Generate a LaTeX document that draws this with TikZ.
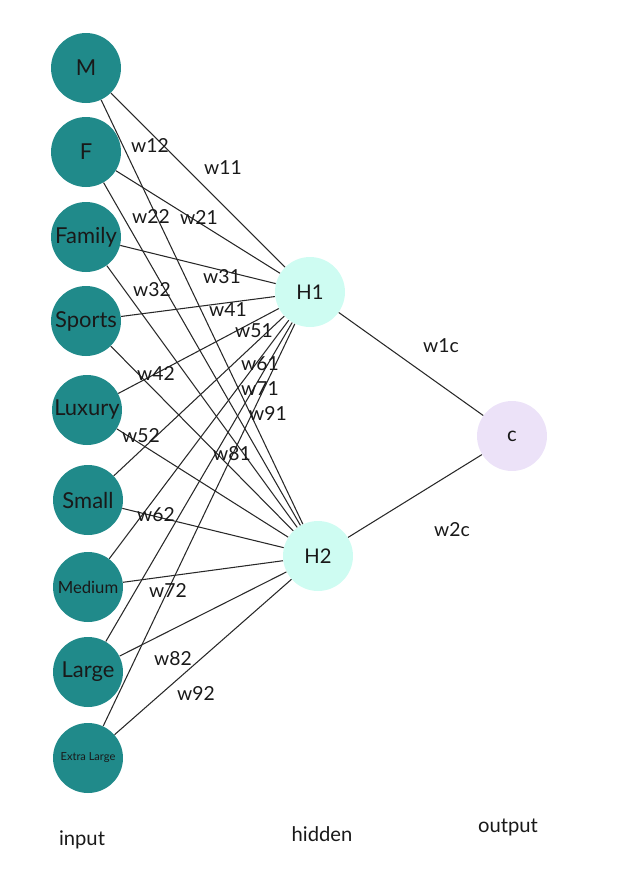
\documentclass[tikz,border=0pt]{standalone}
\usepackage{fontspec}
\setmainfont{Lato}
\definecolor{inteal}{RGB}{32, 138, 138}
\definecolor{hidmint}{RGB}{206, 252, 242}
\definecolor{outlav}{RGB}{236, 226, 248}
\definecolor{edgegray}{RGB}{40, 40, 40}
\definecolor{txtdark}{RGB}{25, 25, 25}
\usetikzlibrary{positioning}

\begin{document}
\begin{tikzpicture}[x=0.02cm, y=-0.02cm,
  inp/.style={circle, fill=inteal, minimum size=1.4cm, inner sep=0pt, text=txtdark, font=\fontsize{12.5}{14}\selectfont},
  hid/.style={circle, fill=hidmint, minimum size=1.4cm, inner sep=0pt, text=txtdark, font=\fontsize{11.5}{13}\selectfont},
  outp/.style={circle, fill=outlav, minimum size=1.4cm, inner sep=0pt, text=txtdark, font=\fontsize{11.5}{13}\selectfont},
  wlabel/.style={inner sep=1pt, text=txtdark, font=\fontsize{11}{13}\selectfont},
  layer/.style={text=txtdark, font=\fontsize{11.5}{13}\selectfont},
  edge/.style={draw=edgegray, line width=0.6pt}]
  \useasboundingbox (0, 0) rectangle (644, 887);

  % Input layer
  \node[inp] (m) at (86, 68) {M};
  \node[inp] (f) at (86, 152) {F};
  \node[inp] (family) at (86, 237) {Family};
  \node[inp] (sports) at (86, 321) {Sports};
  \node[inp] (luxury) at (87, 410) {Luxury};
  \node[inp] (small) at (88, 500) {Small};
  \node[inp, font=\fontsize{9.5}{11}\selectfont] (medium) at (88, 587) {Medium};
  \node[inp] (large) at (88, 672) {Large};
  \node[inp, font=\fontsize{6.3}{7}\selectfont] (xlarge) at (88, 758) {Extra Large};

  % Hidden layer
  \node[hid] (h1) at (310, 292) {H1};
  \node[hid] (h2) at (318, 556) {H2};

  % Output
  \node[outp] (c) at (512, 436) {c};

  % Input -> H1
  \draw[edge] (m) -- (h1);
  \draw[edge] (f) -- (h1);
  \draw[edge] (family) -- (h1);
  \draw[edge] (sports) -- (h1);
  \draw[edge] (luxury) -- (h1);
  \draw[edge] (small) -- (h1);
  \draw[edge] (medium) -- (h1);
  \draw[edge] (large) -- (h1);
  \draw[edge] (xlarge) -- (h1);

  % Input -> H2
  \draw[edge] (m) -- (h2);
  \draw[edge] (f) -- (h2);
  \draw[edge] (family) -- (h2);
  \draw[edge] (sports) -- (h2);
  \draw[edge] (luxury) -- (h2);
  \draw[edge] (small) -- (h2);
  \draw[edge] (medium) -- (h2);
  \draw[edge] (large) -- (h2);
  \draw[edge] (xlarge) -- (h2);

  % Hidden -> output
  \draw[edge] (h1) -- (c);
  \draw[edge] (h2) -- (c);

  % Weights
  \node[wlabel] (w11) at (223, 168) {w11};
  \node[wlabel] (w12) at (150, 145) {w12};
  \node[wlabel] (w21) at (199, 217) {w21};
  \node[wlabel] (w22) at (151, 216) {w22};
  \node[wlabel] (w31) at (222, 277) {w31};
  \node[wlabel] (w32) at (152, 290) {w32};
  \node[wlabel] (w41) at (228, 310) {w41};
  \node[wlabel] (w42) at (156, 373) {w42};
  \node[wlabel] (w51) at (254, 331) {w51};
  \node[wlabel] (w52) at (141, 436) {w52};
  \node[wlabel] (w61) at (260, 364) {w61};
  \node[wlabel] (w62) at (156, 515) {w62};
  \node[wlabel] (w71) at (260, 389) {w71};
  \node[wlabel] (w72) at (168, 590) {w72};
  \node[wlabel] (w81) at (232, 454) {w81};
  \node[wlabel] (w82) at (173, 659) {w82};
  \node[wlabel] (w91) at (268, 413) {w91};
  \node[wlabel] (w92) at (196, 693) {w92};
  \node[wlabel] (w1c) at (441, 346) {w1c};
  \node[wlabel] (w2c) at (452, 530) {w2c};

  % Layer names
  \node[layer] (lin) at (82, 840) {input};
  \node[layer] (lhid) at (322, 834) {hidden};
  \node[layer] (lout) at (508, 827) {output};
\end{tikzpicture}
\end{document}
